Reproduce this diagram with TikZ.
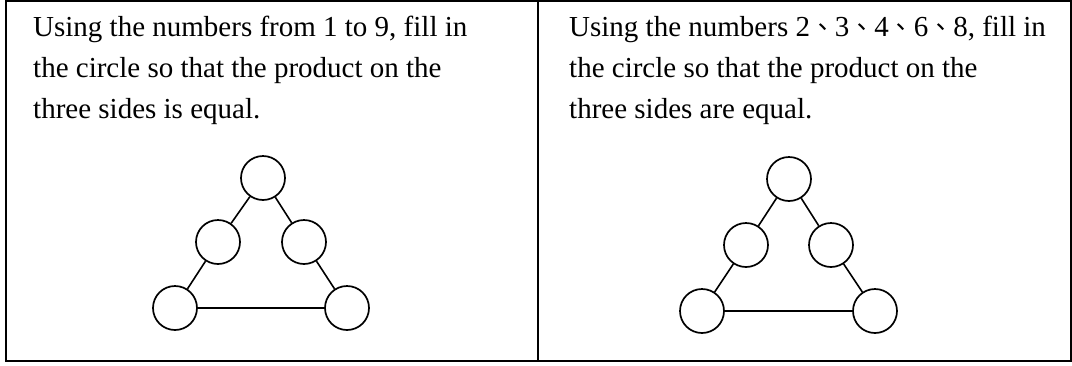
\documentclass[tikz,border=0pt]{standalone}
\usepackage{fontspec}
\setmainfont{Liberation Serif}
\newfontfamily\cjk[Scale=0.86]{Noto Sans CJK TC}
\usetikzlibrary{positioning}
\tikzset{
  frame/.style={draw=black, line width=2pt},
  ring/.style={circle, draw=black, line width=1.7pt, minimum size=44pt, inner sep=0pt, fill=none},
  side/.style={draw=black, line width=1.6pt},
  prompt/.style={anchor=base west, inner sep=0pt, align=left, font=\fontsize{29}{41}\selectfont}
}

\begin{document}
\begin{tikzpicture}[x=1pt, y=-1pt]
  \useasboundingbox (0,0) rectangle (1072,365);
  \draw[frame] (6,1) rectangle (1071,361);
  \draw[frame] (538,1) -- (538,361);

  % anchored at the baseline of the last line
  \node[prompt] (qa) at (33,118) {Using the numbers from 1 to 9, fill in\\the circle so that the product on the\\three sides is equal.};
  \node[prompt] (qb) at (569,118) {Using the numbers 2{\cjk 、}3{\cjk 、}4{\cjk 、}6{\cjk 、}8, fill in\\the circle so that the product on the\\three sides are equal.};

  % left triangle
  \node[ring] (la) at (263,178) {};
  \node[ring] (lb) at (218,242) {};
  \node[ring] (lc) at (304,242) {};
  \node[ring] (ld) at (175,308) {};
  \node[ring] (le) at (347,308) {};
  \draw[side] (la) -- (lb);
  \draw[side] (lb) -- (ld);
  \draw[side] (ld) -- (le);
  \draw[side] (le) -- (lc);
  \draw[side] (lc) -- (la);

  % right triangle
  \node[ring] (ra) at (789,179) {};
  \node[ring] (rb) at (746,245) {};
  \node[ring] (rc) at (831,245) {};
  \node[ring] (rd) at (702,311) {};
  \node[ring] (re) at (875,311) {};
  \draw[side] (ra) -- (rb);
  \draw[side] (rb) -- (rd);
  \draw[side] (rd) -- (re);
  \draw[side] (re) -- (rc);
  \draw[side] (rc) -- (ra);
\end{tikzpicture}
\end{document}
